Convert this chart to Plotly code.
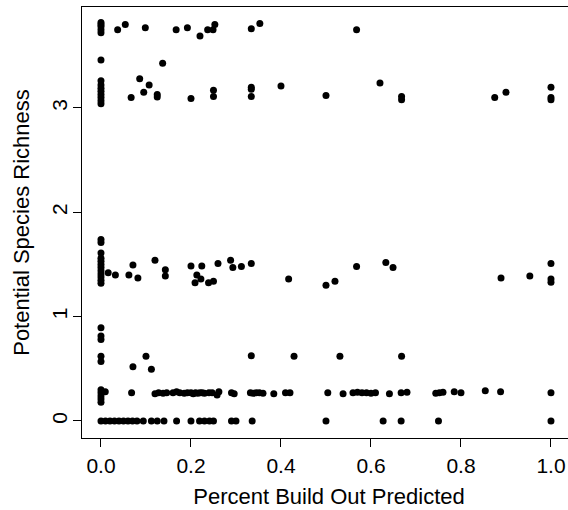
import plotly.graph_objects as go

# ---- data ----
# band near 3.75
top_x = [0, 0, 0, 0, 0, 0.037, 0.054, 0.0985, 0.167, 0.192, 0.22, 0.237, 0.249, 0.253, 0.334, 0.353, 0.568]
top_y = [3.72, 3.75, 3.78, 3.80, 3.82, 3.75, 3.80, 3.77, 3.75, 3.77, 3.69, 3.75, 3.75, 3.80, 3.76, 3.81, 3.75]

# isolated points near 3.45
mid3_x = [0, 0.137]
mid3_y = [3.46, 3.43]

# band near 3.1 - 3.3
b3_x = [0, 0, 0, 0, 0, 0, 0, 0,
        0.086, 0.067, 0.095, 0.107, 0.125, 0.125, 0.20, 0.25, 0.25,
        0.334, 0.334, 0.334, 0.40, 0.50, 0.62, 0.668, 0.668, 0.875, 0.90,
        1.0, 1.0, 1.0]
b3_y = [3.04, 3.07, 3.10, 3.13, 3.16, 3.19, 3.22, 3.26,
        3.28, 3.10, 3.15, 3.22, 3.13, 3.105, 3.09, 3.17, 3.11,
        3.20, 3.18, 3.11, 3.21, 3.12, 3.24, 3.11, 3.08, 3.10, 3.15,
        3.20, 3.10, 3.08]

# band near 1.3 - 1.75
b1_x = [0, 0, 0, 0, 0, 0, 0, 0, 0, 0, 0, 0,
        0.016, 0.032, 0.062, 0.071, 0.082, 0.12, 0.143, 0.143, 0.20, 0.209,
        0.213, 0.224, 0.222, 0.239, 0.25, 0.26, 0.288, 0.293, 0.312, 0.334,
        0.417, 0.50, 0.52, 0.568, 0.633, 0.649, 0.889, 0.953, 1.0, 1.0, 1.0]
b1_y = [1.74, 1.71, 1.61, 1.56, 1.53, 1.50, 1.47, 1.44, 1.41, 1.38, 1.35, 1.32,
        1.42, 1.40, 1.40, 1.495, 1.37, 1.54, 1.45, 1.39, 1.485, 1.325,
        1.40, 1.485, 1.36, 1.325, 1.34, 1.51, 1.54, 1.47, 1.48, 1.51,
        1.36, 1.30, 1.34, 1.48, 1.52, 1.47, 1.37, 1.39, 1.51, 1.36, 1.33]

# band near 0.5 - 0.9
b05_x = [0, 0, 0, 0, 0, 0.071, 0.10, 0.112, 0.334, 0.429, 0.531, 0.668]
b05_y = [0.894, 0.815, 0.78, 0.62, 0.57, 0.52, 0.62, 0.495, 0.626, 0.62, 0.62, 0.62]

# band near 0.27
b027_x = [0, 0, 0, 0, 0, 0.0095, 0.068,
          0.12, 0.128, 0.138, 0.146, 0.16, 0.168, 0.175, 0.185, 0.192, 0.20,
          0.205, 0.21, 0.215, 0.22, 0.225, 0.23, 0.24, 0.247, 0.258, 0.262,
          0.29, 0.296, 0.332, 0.338, 0.345, 0.352, 0.36, 0.384, 0.41, 0.42,
          0.504, 0.538, 0.56, 0.57, 0.58, 0.59, 0.60, 0.61, 0.641, 0.667, 0.68,
          0.744, 0.752, 0.76, 0.785, 0.80, 0.854, 0.888, 1.0]
b027_y = [0.18, 0.21, 0.24, 0.27, 0.30, 0.28, 0.27,
          0.26, 0.27, 0.265, 0.27, 0.27, 0.28, 0.27, 0.265, 0.27, 0.27,
          0.26, 0.27, 0.265, 0.27, 0.27, 0.265, 0.27, 0.27, 0.25, 0.28,
          0.27, 0.26, 0.27, 0.265, 0.27, 0.27, 0.265, 0.26, 0.27, 0.27,
          0.27, 0.26, 0.27, 0.275, 0.27, 0.27, 0.265, 0.27, 0.26, 0.27, 0.275,
          0.265, 0.27, 0.275, 0.28, 0.27, 0.29, 0.28, 0.27]

# band at 0
b0_x = [0, 0.01, 0.02, 0.03, 0.04, 0.05, 0.06, 0.07, 0.08, 0.094,
        0.112, 0.125, 0.14, 0.168, 0.20, 0.219, 0.241, 0.23, 0.25, 0.29, 0.30,
        0.336, 0.50, 0.627, 0.667, 0.75, 1.0]
b0_y = [0] * len(b0_x)

x_ticks = [0, 0.2, 0.4, 0.6, 0.8, 1.0]
x_tick_labels = ["0.0", "0.2", "0.4", "0.6", "0.8", "1.0"]
y_ticks = [0, 1, 2, 3]
y_tick_labels = ["0", "1", "2", "3"]

all_x = top_x + mid3_x + b3_x + b1_x + b05_x + b027_x + b0_x
all_y = top_y + mid3_y + b3_y + b1_y + b05_y + b027_y + b0_y

FONT = "Liberation Sans, Arial, Helvetica, sans-serif"
FS = 21
FS_TITLE = 22

fig = go.Figure(go.Scatter(
    x=all_x, y=all_y, mode="markers",
    marker=dict(color="black", size=7, line=dict(width=0)),
    hoverinfo="skip", showlegend=False,
))

fig.update_layout(
    width=576, height=510,
    margin=dict(l=82, r=0, t=7, b=72),
    paper_bgcolor="white", plot_bgcolor="white",
    font=dict(family=FONT, size=FS, color="black"),
    xaxis=dict(
        range=[-0.0422, 1.0556],
        tickvals=x_ticks, ticktext=x_tick_labels,
        ticks="outside", ticklen=8, tickwidth=1, tickcolor="black",
        showline=True, linecolor="black", linewidth=1, mirror=True,
        showgrid=False, zeroline=False, automargin=False,
        ticklabelstandoff=1,
        title=dict(text="Percent Build Out Predicted", standoff=12,
                   font=dict(family=FONT, size=FS_TITLE)),
    ),
    yaxis=dict(
        range=[-0.163, 3.968],
        tickvals=y_ticks, ticktext=y_tick_labels, tickangle=-90,
        ticks="outside", ticklen=8, tickwidth=1, tickcolor="black",
        showline=True, linecolor="black", linewidth=1, mirror=False,
        showgrid=False, zeroline=False, automargin=False,
        ticklabelstandoff=-2,
        title=dict(text="Potential Species Richness", standoff=11,
                   font=dict(family=FONT, size=FS_TITLE)),
    ),
)

fig.write_html(
    "out.html",
    config={"displayModeBar": False, "staticPlot": True},
    post_script="document.documentElement.style.margin='0';document.documentElement.style.overflow='hidden';document.body.style.margin='0';document.body.style.overflow='hidden';",
)
